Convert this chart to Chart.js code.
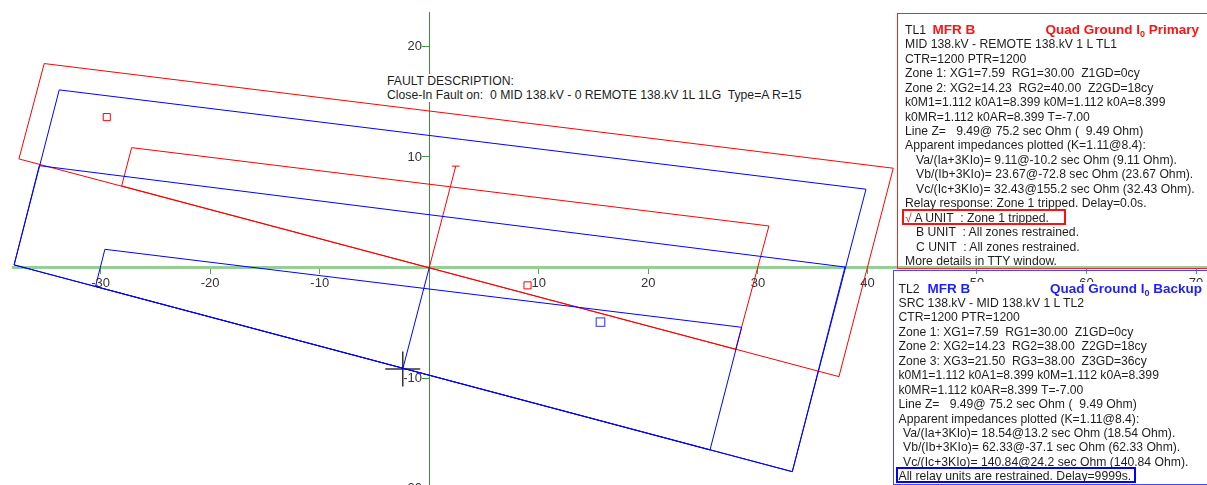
<!DOCTYPE html>
<html>
<head>
<meta charset="utf-8">
<script src="https://cdn.jsdelivr.net/npm/chart.js@4/dist/chart.umd.min.js"></script>
<style>
html,body{margin:0;padding:0;background:#fff;}
#wrap{position:relative;width:1207px;height:485px;overflow:hidden;font-family:'Liberation Sans',Arial,sans-serif;color:#1e1e1e;}
#chart{position:absolute;left:0;top:0;}
.abs{position:absolute;white-space:pre;}
.txt{font-size:12.2px;line-height:14.45px;}
.ttl{font-size:13.5px;line-height:14.45px;font-weight:bold;}
.red{color:#ff1414;}
.blue{color:#1e1eff;}
sub{font-size:9px;line-height:0;vertical-align:-3px;}
.ind{padding-left:11px;}
.ind2{padding-left:4.5px;}
</style>
</head>
<body>
<div id="wrap">
<canvas id="chart" width="1207" height="497"></canvas>

<!-- fault description -->
<div class="abs txt" style="left:386px;top:73.5px;background:#fff;padding:0 1px;">FAULT DESCRIPTION:
Close-In Fault on:  0 MID 138.kV - 0 REMOTE 138.kV 1L 1LG  Type=A R=15</div>

<!-- TL1 box -->
<div class="abs" style="left:897px;top:13px;width:330px;height:256px;box-sizing:border-box;border:1px solid #ff2020;"></div>
<div class="abs txt" style="left:905px;top:22.8px;"><div>TL1</div><div>MID 138.kV - REMOTE 138.kV 1 L TL1</div><div>CTR=1200 PTR=1200</div><div>Zone 1: XG1=7.59  RG1=30.00  Z1GD=0cy</div><div>Zone 2: XG2=14.23  RG2=40.00  Z2GD=18cy</div><div>k0M1=1.112 k0A1=8.399 k0M=1.112 k0A=8.399</div><div>k0MR=1.112 k0AR=8.399 T=-7.00</div><div>Line Z=   9.49@ 75.2 sec Ohm (  9.49 Ohm)</div><div>Apparent impedances plotted (K=1.11@8.4):</div><div class="ind">Va/(Ia+3KIo)= 9.11@-10.2 sec Ohm (9.11 Ohm).</div><div class="ind">Vb/(Ib+3KIo)= 23.67@-72.8 sec Ohm (23.67 Ohm).</div><div class="ind">Vc/(Ic+3KIo)= 32.43@155.2 sec Ohm (32.43 Ohm).</div><div>Relay response: Zone 1 tripped. Delay=0.0s.</div><div><span class="red">√</span> A UNIT  : Zone 1 tripped.</div><div class="ind">B UNIT  : All zones restrained.</div><div class="ind">C UNIT  : All zones restrained.</div><div>More details in TTY window.</div></div>
<div class="abs ttl red" style="left:932.5px;top:22.8px;">MFR B</div>
<div class="abs ttl red" style="right:8px;top:22.8px;">Quad Ground I<sub>0</sub> Primary</div>
<div class="abs" style="left:901.5px;top:209px;width:164px;height:16px;box-sizing:border-box;border:2px solid #ff1010;"></div>

<!-- TL2 box -->
<div class="abs" style="left:893px;top:281.5px;width:320px;height:204px;background:#fff;"></div>
<div class="abs" style="left:892.5px;top:269.5px;width:330px;height:215px;box-sizing:border-box;border:1px solid #4646ff;"></div>
<div class="abs txt" style="left:898.5px;top:281.5px;"><div>TL2</div><div>SRC 138.kV - MID 138.kV 1 L TL2</div><div>CTR=1200 PTR=1200</div><div>Zone 1: XG1=7.59  RG1=30.00  Z1GD=0cy</div><div>Zone 2: XG2=14.23  RG2=38.00  Z2GD=18cy</div><div>Zone 3: XG3=21.50  RG3=38.00  Z3GD=36cy</div><div>k0M1=1.112 k0A1=8.399 k0M=1.112 k0A=8.399</div><div>k0MR=1.112 k0AR=8.399 T=-7.00</div><div>Line Z=   9.49@ 75.2 sec Ohm (  9.49 Ohm)</div><div>Apparent impedances plotted (K=1.11@8.4):</div><div class="ind2">Va/(Ia+3KIo)= 18.54@13.2 sec Ohm (18.54 Ohm).</div><div class="ind2">Vb/(Ib+3KIo)= 62.33@-37.1 sec Ohm (62.33 Ohm).</div><div class="ind2">Vc/(Ic+3KIo)= 140.84@24.2 sec Ohm (140.84 Ohm).</div><div>All relay units are restrained. Delay=9999s.</div></div>
<div class="abs ttl blue" style="left:927.5px;top:281.5px;">MFR B</div>
<div class="abs ttl blue" style="right:5px;top:281.5px;">Quad Ground I<sub>0</sub> Backup</div>
<div class="abs" style="left:895.5px;top:467px;width:240px;height:16px;box-sizing:border-box;border:2px solid #0000ff;"></div>
</div>

<script>
// ---- axis ticks / ranges ----
const xTickValues = [-30, -20, -10, 10, 20, 30, 40, 50, 60, 70];
const yTickValues = [-20, -10, 10, 20];
const xRange = [-38, 71];
const yRange = [-20.74, 23.1];

// ---- TL1 (primary, red) quad zones: [R, X] corners, sec ohm ----
const tl1Zone1 = [[-27.17, 10.84], [31.01, 3.76], [27.97, -7.39], [-28.08, 7.38]];
const tl1Zone2 = [[-35.15, 18.44], [42.36, 8.98], [37.40, -9.86], [-37.46, 9.82]];
const tl1LineZ = [[0, 0], [2.42, 9.17]];
const tl1LineCap = [[2.07, 9.17], [2.77, 9.17]];
const tl1Apparent = [[8.97, -1.61], [-29.44, 13.60]];

// ---- TL2 (backup, blue) quad zones ----
const tl2Zone1 = [[-29.61, 1.65], [28.52, -5.40], [25.63, -16.49], [-30.47, -1.71]];
const tl2Zone2 = [[-35.60, 9.21], [37.95, 0.05], [33.14, -18.45], [-37.90, 0.24]];
const tl2Zone3 = [[-33.78, 16.06], [39.87, 7.08], [33.14, -18.45], [-37.90, 0.24]];
const tl2LineZ = [[0, 0], [-2.42, -9.17]];
const tl2Origin = [[-2.42, -9.17]];
const tl2Apparent = [[15.63, -4.94]];

const RED = 'rgb(255,0,0)';
const BLUE = 'rgb(0,0,255)';

function pts(arr) { return arr.map(p => ({x: p[0], y: p[1]})); }
function closed(arr) { return pts(arr.concat([arr[0]])); }
function lineDs(data, color) {
  return {data, showLine: true, borderColor: color, borderWidth: 1, pointRadius: 0, tension: 0, fill: false};
}
function markDs(data, color, style, radius, width) {
  return {data, showLine: false, pointStyle: style, pointRadius: radius, pointBorderColor: color,
          pointBackgroundColor: 'rgba(0,0,0,0)', pointBorderWidth: width, borderColor: color};
}

const datasets = [
  lineDs(closed(tl2Zone3), BLUE),
  lineDs(closed(tl2Zone2), BLUE),
  lineDs(closed(tl2Zone1), BLUE),
  lineDs(pts(tl2LineZ), BLUE),
  lineDs(closed(tl1Zone2), RED),
  lineDs(closed(tl1Zone1), RED),
  lineDs(pts(tl1LineZ), RED),
  lineDs(pts(tl1LineCap), RED),
  markDs(pts(tl1Apparent), RED, 'rect', 5, 1),
  markDs(pts(tl2Apparent), '#5a5aff', 'rect', 6, 1.3),
  markDs(pts(tl2Origin), '#333333', 'cross', 17.5, 1.5)
];

const tickFont = {family: "'Liberation Sans', Arial, sans-serif", size: 13};
function noPad(s) { s.paddingTop = 0; s.paddingBottom = 0; s.paddingLeft = 0; s.paddingRight = 0; }

new Chart(document.getElementById('chart'), {
  type: 'scatter',
  data: {datasets},
  options: {
    responsive: false,
    animation: false,
    events: [],
    layout: {padding: {left: 13, top: 12, right: 0, bottom: 0}, autoPadding: false},
    plugins: {legend: {display: false}, tooltip: {enabled: false}, title: {display: false}},
    scales: {
      x: {
        type: 'linear',
        position: {y: 0},
        min: xRange[0], max: xRange[1],
        afterBuildTicks: s => { s.ticks = xTickValues.map(v => ({value: v})); },
        afterFit: noPad,
        grid: {drawOnChartArea: false, drawTicks: true, tickLength: 5, tickColor: '#4cae4c', tickWidth: 1},
        border: {display: true, color: '#96cf96', width: 3},
        ticks: {color: '#333', font: tickFont, padding: 3, maxRotation: 0, autoSkip: false,
                callback: v => String(v)}
      },
      y: {
        type: 'linear',
        position: {x: 0},
        min: yRange[0], max: yRange[1],
        afterBuildTicks: s => { s.ticks = yTickValues.map(v => ({value: v})); },
        afterFit: noPad,
        grid: {drawOnChartArea: false, drawTicks: true, tickLength: 7, tickColor: '#3c9a3c', tickWidth: 1},
        border: {display: true, color: '#3d8f3d', width: 1},
        ticks: {color: '#333', font: tickFont, padding: 0, autoSkip: false,
                callback: v => String(v) + '  '}
      }
    }
  }
});
</script>
</body>
</html>
